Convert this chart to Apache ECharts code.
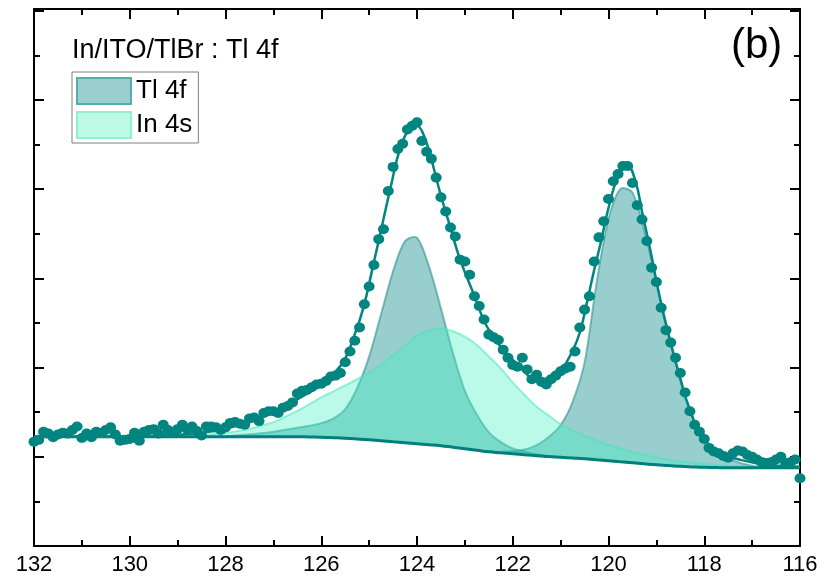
<!DOCTYPE html>
<html>
<head>
    <meta charset="utf-8"/>
    <title>In/ITO/TlBr : Tl 4f</title>
    <script src="https://cdn.jsdelivr.net/npm/echarts@6/dist/echarts.min.js"></script>
    <style>
        html, body { margin: 0; padding: 0; background: #fff; }
        #main { width: 825px; height: 581px; }
    </style>
</head>
<body>
<div id="main"></div>
<script>
    // 测量点: 132 eV 到 116 eV, 步长 0.1 eV
    var pointStart = 132;
    var pointStep = 0.1;
    var counts = [
        1.17, 1.19, 1.28, 1.26, 1.22, 1.25, 1.27, 1.26, 1.30, 1.34,
        1.21, 1.26, 1.22, 1.28, 1.27, 1.30, 1.33, 1.25, 1.18, 1.19,
        1.20, 1.27, 1.18, 1.28, 1.30, 1.31, 1.26, 1.36, 1.30, 1.27,
        1.31, 1.36, 1.31, 1.34, 1.29, 1.24, 1.34, 1.34, 1.33, 1.30,
        1.33, 1.38, 1.39, 1.37, 1.36, 1.43, 1.44, 1.40, 1.49, 1.51,
        1.51, 1.49, 1.55, 1.57, 1.61, 1.71, 1.74, 1.75, 1.78, 1.81,
        1.82, 1.85, 1.90, 1.91, 1.94, 2.06, 2.18, 2.30, 2.45, 2.71,
        2.91, 3.15, 3.44, 3.55, 3.98, 4.25, 4.45, 4.51, 4.67, 4.71,
        4.75, 4.54, 4.42, 4.34, 4.13, 3.91, 3.75, 3.57, 3.47, 3.21,
        3.19, 3.04, 2.80, 2.69, 2.54, 2.37, 2.34, 2.31, 2.20, 2.11,
        2.03, 2.01, 2.11, 1.98, 1.87, 1.92, 1.84, 1.81, 1.87, 1.91,
        1.96, 1.99, 2.01, 2.18, 2.45, 2.65, 2.80, 3.19, 3.46, 3.64,
        3.89, 4.09, 4.17, 4.26, 4.26, 4.07, 3.82, 3.66, 3.42, 3.12,
        2.96, 2.67, 2.42, 2.28, 2.11, 1.94, 1.72, 1.51, 1.36, 1.28,
        1.20, 1.10, 1.06, 1.04, 1.01, 0.99, 1.04, 1.07, 1.06, 1.02,
        1.00, 0.97, 0.94, 0.93, 0.94, 0.97, 1.00, 0.93, 0.94, 0.97,
        0.76
    ];

    // 拟合包络线
    var envelopeX = [132.00, 130.62, 129.58, 128.53, 127.84, 127.13, 126.44, 126.17, 125.88, 125.61,
        125.46, 125.34, 125.13, 124.92, 124.71, 124.56, 124.36, 124.21, 124.08, 123.98,
        123.87, 123.73, 123.52, 123.31, 123.10, 122.83, 122.54, 122.20, 121.85, 121.49,
        121.22, 121.01, 120.74, 120.60, 120.45, 120.32, 120.17, 119.97, 119.80, 119.61,
        119.45, 119.28, 119.13, 118.92, 118.72, 118.51, 118.30, 118.03, 117.67, 117.25,
        116.69, 116.00];
    var envelopeY = [1.225, 1.225, 1.236, 1.270, 1.337, 1.472, 1.663, 1.753, 1.865, 2.011,
        2.146, 2.315, 2.652, 3.135, 3.640, 4.000, 4.449, 4.640, 4.719, 4.708,
        4.618, 4.393, 3.966, 3.584, 3.213, 2.843, 2.461, 2.202, 2.011, 1.865,
        1.888, 1.955, 2.202, 2.393, 2.730, 3.045, 3.382, 3.854, 4.135, 4.258,
        4.112, 3.697, 3.326, 2.764, 2.315, 1.899, 1.528, 1.225, 1.045, 0.966,
        0.910, 0.888];

    // 分峰: 132 eV 到 116 eV, 步长 0.25 eV (峰高为扣除本底后的值)
    var compStart = 132;
    var compStep = 0.25;
    var background = [
        1.225, 1.225, 1.225, 1.225, 1.225, 1.225, 1.225, 1.225, 1.225, 1.225,
        1.225, 1.225, 1.225, 1.225, 1.225, 1.225, 1.225, 1.225, 1.225, 1.225,
        1.225, 1.225, 1.225, 1.222, 1.219, 1.214, 1.208, 1.200, 1.191, 1.180,
        1.169, 1.158, 1.146, 1.135, 1.124, 1.107, 1.090, 1.073, 1.056, 1.045,
        1.034, 1.022, 1.011, 1.002, 0.994, 0.986, 0.978, 0.966, 0.955, 0.944,
        0.933, 0.921, 0.910, 0.902, 0.893, 0.887, 0.882, 0.879, 0.876, 0.876,
        0.876, 0.876, 0.876, 0.876, 0.876
    ];
    var tl4fHigh = [
        0, 0, 0, 0, 0, 0, 0, 0, 0, 0,
        0, 0, 0, 0, 0, 0, 0.005, 0.016, 0.028, 0.040,
        0.056, 0.079, 0.100, 0.126, 0.158, 0.214, 0.326, 0.571, 0.932, 1.42,
        1.91, 2.26, 2.31, 2.00, 1.54, 1.06, 0.65, 0.40, 0.22, 0.12,
        0.06, 0.035, 0.019, 0.007, 0, 0, 0, 0, 0, 0,
        0, 0, 0, 0, 0, 0, 0, 0, 0, 0,
        0, 0, 0, 0, 0
    ];
    var tl4fLow = [
        0, 0, 0, 0, 0, 0, 0, 0, 0, 0,
        0, 0, 0, 0, 0, 0, 0, 0, 0, 0,
        0, 0, 0, 0, 0, 0, 0, 0, 0, 0,
        0, 0, 0, 0, 0, 0, 0, 0, 0.003, 0.01,
        0.03, 0.06, 0.12, 0.22, 0.36, 0.63, 1.08, 1.98, 2.71, 3.06,
        3.03, 2.61, 2.05, 1.49, 0.96, 0.56, 0.31, 0.19, 0.11, 0.056,
        0.025, 0.006, 0, 0, 0
    ];
    var in4s = [
        0, 0, 0, 0, 0, 0, 0, 0, 0, 0,
        0, 0.003, 0.007, 0.012, 0.018, 0.030, 0.043, 0.064, 0.087, 0.124,
        0.163, 0.224, 0.289, 0.366, 0.447, 0.519, 0.592, 0.671, 0.750, 0.855,
        0.973, 1.09, 1.21, 1.28, 1.315, 1.30, 1.256, 1.18, 1.07, 0.947,
        0.80, 0.67, 0.55, 0.46, 0.37, 0.31, 0.26, 0.217, 0.178, 0.151,
        0.124, 0.103, 0.083, 0.068, 0.055, 0.046, 0.037, 0.029, 0.021, 0.017,
        0.013, 0.010, 0.008, 0.005, 0.004
    ];

    var font = '"Liberation Sans", Arial, sans-serif';
    var teal = '#008580';

    function compX(j) {
        return +(compStart - j * compStep).toFixed(2);
    }

    function compPairs(vals) {
        var out = [];
        for (var j = 0; j < vals.length; j++) {
            out.push([compX(j), vals[j]]);
        }
        return out;
    }

    var points = [];
    for (var i = 0; i < counts.length; i++) {
        points.push([+(pointStart - i * pointStep).toFixed(2), counts[i]]);
    }
    var envelope = [];
    for (var k = 0; k < envelopeX.length; k++) {
        envelope.push([envelopeX[k], envelopeY[k]]);
    }

    // 本底与本底+峰之间的填充区域
    function bandSeries(name, vals, fill, stroke) {
        var data = [];
        for (var j = 0; j < vals.length; j++) {
            data.push([compX(j), background[j], +(background[j] + vals[j]).toFixed(4)]);
        }
        return {
            name: name,
            type: 'custom',
            coordinateSystem: 'cartesian2d',
            data: data,
            encode: { x: 0, y: [1, 2] },
            silent: true,
            itemStyle: { color: fill },
            renderItem: function (params, api) {
                if (params.dataIndexInside !== 0) {
                    return null;
                }
                var n = params.dataInsideLength;
                var top = [];
                var bottom = [];
                for (var m = 0; m < n; m++) {
                    top.push(api.coord([api.value(0, m), api.value(2, m)]));
                    bottom.push(api.coord([api.value(0, m), api.value(1, m)]));
                }
                var poly = top.concat(bottom.slice().reverse());
                return {
                    type: 'group',
                    children: [{
                        type: 'polygon',
                        shape: { points: poly, smooth: 0.3 },
                        style: { fill: fill, stroke: null }
                    }, {
                        type: 'polyline',
                        shape: { points: top, smooth: 0.3 },
                        style: { fill: null, stroke: stroke, lineWidth: 2 }
                    }]
                };
            }
        };
    }

    function axisCommon(extra) {
        var base = {
            type: 'value',
            axisLine: { show: true, onZero: false, lineStyle: { color: '#000', width: 2 } },
            axisTick: { show: true, inside: true, length: 10, lineStyle: { color: '#000', width: 2 } },
            minorTick: { show: true, splitNumber: 2, length: 6, lineStyle: { color: '#000', width: 2 } },
            splitLine: { show: false },
            axisLabel: { show: false }
        };
        for (var key in extra) base[key] = extra[key];
        return base;
    }

    var myChart = echarts.init(document.getElementById('main'), null, { renderer: 'canvas' });
    var option = {
        animation: false,
        backgroundColor: '#fff',
        textStyle: { fontFamily: font },
        title: [{
            text: 'In/ITO/TlBr : Tl 4f', left: 72, top: 37, padding: 0,
            textStyle: { fontSize: 27, fontWeight: 'normal', color: '#000', fontFamily: font }
        }, {
            text: '(b)', left: 731, top: 25, padding: 0,
            textStyle: { fontSize: 42, fontWeight: 'normal', color: '#000', fontFamily: font }
        }],
        legend: {
            left: 72, top: 72, orient: 'vertical',
            itemWidth: 54, itemHeight: 26, itemGap: 6,
            padding: [5, 6, 4, 4],
            borderColor: '#7f7f7f', borderWidth: 1, backgroundColor: '#fff',
            selectedMode: false,
            textStyle: { fontSize: 26, color: '#000', fontFamily: font },
            data: [
                { name: 'Tl 4f', icon: 'rect', itemStyle: { color: '#9bcfcf', borderColor: '#5aabab', borderWidth: 2 } },
                { name: 'In 4s', icon: 'rect', itemStyle: { color: '#bdfae6', borderColor: '#90f0d5', borderWidth: 2 } }
            ]
        },
        grid: { left: 34, right: 25, top: 9, bottom: 35, containLabel: false, outerBoundsMode: 'none' },
        xAxis: [
            axisCommon({
                position: 'bottom', min: 116, max: 132, interval: 2, inverse: true,
                axisLabel: {
                    show: true, color: '#000', fontSize: 22, margin: 8, fontFamily: font,
                    showMinLabel: true, showMaxLabel: true, hideOverlap: false
                }
            }),
            axisCommon({ position: 'top', min: 116, max: 132, interval: 2, inverse: true })
        ],
        yAxis: [
            axisCommon({ position: 'left', min: 0, max: 6.02, interval: 1 }),
            axisCommon({ position: 'right', min: 0, max: 6.02, interval: 1 })
        ],
        series: [
            bandSeries('Tl 4f', tl4fHigh, 'rgba(0,133,133,0.4)', 'rgba(40,140,140,0.55)'),
            bandSeries('Tl 4f', tl4fLow, 'rgba(0,133,133,0.4)', 'rgba(40,140,140,0.55)'),
            bandSeries('In 4s', in4s, 'rgba(60,240,190,0.35)', 'rgba(70,230,185,0.55)'),
            {
                name: 'Background', type: 'line', data: compPairs(background), smooth: true,
                symbol: 'none', lineStyle: { color: '#00807c', width: 3 }
            },
            {
                name: 'Fit', type: 'line', data: envelope, smooth: true,
                symbol: 'none', lineStyle: { color: teal, width: 2.5 }
            },
            {
                name: 'Data', type: 'scatter', data: points, symbol: 'circle',
                symbolSize: [11, 10], itemStyle: { color: teal, opacity: 1 }
            }
        ]
    };
    myChart.setOption(option);

    window.onresize = function () {
        myChart.resize();
    };
</script>
</body>
</html>
